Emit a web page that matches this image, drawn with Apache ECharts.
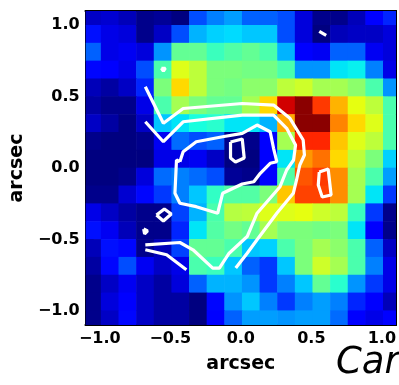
<!DOCTYPE html>
<html>
<head>
<meta charset="utf-8">
<script src="https://cdn.jsdelivr.net/npm/echarts@6/dist/echarts.min.js"></script>
<style>
  html, body { margin: 0; padding: 0; background: #ffffff; }
  #chart { width: 399px; height: 385px; }
</style>
</head>
<body>
<div id="chart"></div>
<script>
// Pixel centres of the map (arcsec offsets), pixel size 0.125"
const xCenters = [-1.0525, -0.9275, -0.8025, -0.6775, -0.5525, -0.4275, -0.3025, -0.1775, -0.0525,
                  0.0725, 0.1975, 0.3225, 0.4475, 0.5725, 0.6975, 0.8225, 0.9475, 1.0725];
const yCenters = [1.0625, 0.9375, 0.8125, 0.6875, 0.5625, 0.4375, 0.3125, 0.1875, 0.0625,
                  -0.0625, -0.1875, -0.3125, -0.4375, -0.5625, -0.6875, -0.8125, -0.9375, -1.0625];
const pixelSize = 0.125;

// Normalised surface brightness, one row per yCenters entry (top to bottom)
const fluxRows = [
  [0.06,0.07,0.05,0.01,0.02,0.00,0.20,0.25,0.28,0.22,0.22,0.20,0.08,0.01,0.01,0.05,0.12,0.16],
  [0.14,0.09,0.08,0.01,0.06,0.20,0.30,0.33,0.34,0.32,0.32,0.20,0.08,0.00,0.05,0.06,0.06,0.08],
  [0.22,0.09,0.10,0.08,0.27,0.47,0.47,0.42,0.45,0.47,0.44,0.30,0.12,0.10,0.22,0.22,0.10,0.08],
  [0.13,0.11,0.09,0.20,0.44,0.62,0.58,0.50,0.50,0.49,0.49,0.44,0.27,0.27,0.35,0.36,0.25,0.09],
  [0.05,0.03,0.06,0.16,0.50,0.68,0.58,0.50,0.49,0.52,0.52,0.58,0.60,0.55,0.55,0.52,0.44,0.27],
  [0.03,0.01,0.01,0.09,0.44,0.55,0.50,0.47,0.47,0.55,0.68,0.93,0.99,0.85,0.72,0.63,0.58,0.44],
  [0.06,0.03,0.00,0.06,0.32,0.35,0.38,0.40,0.35,0.35,0.30,0.73,0.99,0.99,0.77,0.68,0.62,0.44],
  [0.01,0.00,0.00,0.01,0.10,0.23,0.20,0.22,0.01,0.01,0.11,0.55,0.87,0.87,0.70,0.62,0.58,0.44],
  [0.00,0.00,0.00,0.00,0.09,0.09,0.10,0.06,0.00,0.00,0.11,0.35,0.75,0.79,0.68,0.58,0.50,0.33],
  [0.00,0.00,0.01,0.08,0.23,0.25,0.23,0.20,0.02,0.01,0.11,0.45,0.82,0.85,0.76,0.55,0.44,0.28],
  [0.01,0.01,0.07,0.13,0.18,0.25,0.32,0.41,0.45,0.45,0.50,0.70,0.84,0.84,0.76,0.55,0.35,0.18],
  [0.09,0.06,0.03,0.01,0.01,0.19,0.30,0.44,0.57,0.58,0.62,0.62,0.63,0.60,0.58,0.42,0.18,0.01],
  [0.14,0.10,0.05,0.01,0.01,0.16,0.35,0.45,0.49,0.47,0.55,0.50,0.50,0.49,0.50,0.35,0.11,0.01],
  [0.05,0.14,0.13,0.01,0.05,0.19,0.47,0.47,0.44,0.32,0.33,0.44,0.50,0.55,0.52,0.44,0.22,0.06],
  [0.03,0.13,0.20,0.10,0.06,0.09,0.44,0.42,0.32,0.22,0.18,0.32,0.50,0.60,0.55,0.44,0.25,0.09],
  [0.01,0.06,0.10,0.06,0.03,0.08,0.22,0.30,0.30,0.27,0.18,0.25,0.32,0.47,0.40,0.27,0.18,0.09],
  [0.01,0.08,0.11,0.06,0.03,0.03,0.00,0.13,0.27,0.32,0.25,0.18,0.25,0.28,0.25,0.16,0.11,0.05],
  [0.01,0.06,0.13,0.06,0.03,0.03,0.00,0.11,0.22,0.28,0.28,0.27,0.28,0.28,0.23,0.11,0.09,0.11]
];

// Overlaid contour paths, [x, y] in arcsec
const contourOuter = [[-0.677,0.569],[-0.549,0.313],[-0.409,0.417],[0.010,0.452],[0.232,0.441],
  [0.348,0.348],[0.442,0.196],[0.451,0.091],[0.418,0.021],[0.395,-0.084],[0.372,-0.177],
  [0.255,-0.317],[0.115,-0.503],[0.045,-0.597],[-0.036,-0.701]];
const contourOuterLow = [[-0.677,-0.573],[-0.526,-0.608],[-0.386,-0.713]];
const contourMiddle = [[-0.677,0.324],[-0.549,0.184],[-0.409,0.324],[0.010,0.371],[0.232,0.371],
  [0.325,0.278],[0.388,0.161],[0.374,0.056],[0.325,-0.014],[0.278,-0.131],[0.115,-0.317],
  [0.045,-0.480],[-0.083,-0.597],[-0.152,-0.701],[-0.199,-0.701],[-0.339,-0.573],
  [-0.432,-0.522],[-0.677,-0.538]];
const contourInner = [[-0.432,0.044],[-0.409,0.114],[-0.316,0.184],[-0.129,0.219],[0.010,0.243],
  [0.115,0.301],[0.208,0.254],[0.232,0.138],[0.255,0.044],[0.208,0.033],[0.138,-0.037],
  [0.092,-0.096],[0.010,-0.112],[-0.129,-0.177],[-0.164,-0.317],[-0.199,-0.306],
  [-0.316,-0.271],[-0.432,-0.247],[-0.467,-0.177],[-0.456,0.056],[-0.432,0.044]];
const peakCentre = [[-0.073,0.182],[0.010,0.203],[0.024,0.070],[-0.038,0.042],[-0.073,0.070],[-0.073,0.182]];
const peakEast = [[0.556,-0.028],[0.619,-0.007],[0.640,-0.189],[0.577,-0.203],[0.549,-0.119],[0.556,-0.028]];
const knotSouth = [[-0.598,-0.329],[-0.542,-0.287],[-0.493,-0.322],[-0.549,-0.371],[-0.598,-0.329]];
const knotWest = [[-0.689,-0.427],[-0.661,-0.441],[-0.682,-0.462],[-0.689,-0.427]];
const knotNorth = [[-0.563,0.699],[-0.535,0.699],[-0.549,0.678],[-0.563,0.699]];
const knotNE = [[0.556,0.958],[0.605,0.930]];

const majorTicks = [-1.0, -0.5, 0.0, 0.5, 1.0];
const minorTicks = [-0.9,-0.8,-0.7,-0.6,-0.4,-0.3,-0.2,-0.1,0.1,0.2,0.3,0.4,0.6,0.7,0.8,0.9];

// matplotlib "jet" colour map
function jet(t) {
  const seg = (pts) => {
    for (let i = 1; i < pts.length; i++) {
      if (t <= pts[i][0]) {
        const [x0, y0] = pts[i - 1], [x1, y1] = pts[i];
        return y0 + (y1 - y0) * (t - x0) / (x1 - x0);
      }
    }
    return pts[pts.length - 1][1];
  };
  const r = seg([[0,0],[0.35,0],[0.66,1],[0.89,1],[1,0.5]]);
  const g = seg([[0,0],[0.125,0],[0.375,1],[0.64,1],[0.91,0],[1,0]]);
  const b = seg([[0,0.5],[0.11,1],[0.34,1],[0.65,0],[1,0]]);
  const h = v => Math.round(Math.max(0, Math.min(1, v)) * 255).toString(16).padStart(2, '0');
  return '#' + h(r) + h(g) + h(b);
}
const jetStops = [];
for (let i = 0; i <= 100; i++) jetStops.push(jet(i / 100));

const cells = [];
fluxRows.forEach((row, j) => row.forEach((v, i) => cells.push([xCenters[i], yCenters[j], v])));

const FONT = 'DejaVu Sans';
const fmt = v => (v < 0 ? '\u2212' : '') + Math.abs(v).toFixed(1);

function axisSet(dim, position, ticks, len, labelled) {
  const a = {
    type: 'value', position: position, min: -1.1, max: 1.1, gridIndex: 0,
    axisLine: { show: labelled !== null, onZero: false, lineStyle: { color: '#000', width: 2 } },
    axisTick: { show: true, inside: true, length: len, customValues: ticks, lineStyle: { color: '#000', width: 1.6 } },
    axisLabel: { show: false },
    splitLine: { show: false }
  };
  if (labelled) {
    a.axisLabel = { show: true, customValues: majorTicks, formatter: fmt, color: '#000',
      fontFamily: FONT, fontWeight: 'bold', fontSize: 16, margin: 6 };
    a.name = 'arcsec';
    a.nameLocation = 'middle';
    a.nameTextStyle = { color: '#000', fontFamily: FONT, fontWeight: 'bold', fontSize: 19 };
    a.nameGap = dim === 'x' ? 30 : 45;
  }
  return a;
}

const chart = echarts.init(document.getElementById('chart'), null, { renderer: 'canvas' });

const contourStyle = { color: '#ffffff', width: 3.2 };
const contourSets = [contourOuter, contourOuterLow, contourMiddle, contourInner,
  peakCentre, peakEast, knotSouth, knotWest, knotNorth, knotNE];

chart.setOption({
  animation: false,
  backgroundColor: '#ffffff',
  grid: { left: 81, top: 11, width: 315, height: 314, containLabel: false },
  xAxis: [
    axisSet('x', 'bottom', majorTicks, 8, true),
    axisSet('x', 'bottom', minorTicks, 4, false),
    axisSet('x', 'top', majorTicks, 8, false),
    axisSet('x', 'top', minorTicks, 4, false)
  ],
  yAxis: [
    axisSet('y', 'left', majorTicks, 8, true),
    axisSet('y', 'left', minorTicks, 4, false),
    axisSet('y', 'right', majorTicks, 8, false),
    axisSet('y', 'right', minorTicks, 4, false)
  ],
  visualMap: {
    type: 'continuous', show: false, min: 0, max: 1, dimension: 2, seriesIndex: 0,
    inRange: { color: jetStops }
  },
  graphic: [{
    type: 'text', left: 336, top: 345, silent: true,
    style: { text: 'Carr', font: 'italic 37px "DejaVu Sans"', fill: '#000' }
  }],
  series: [{
    type: 'custom',
    xAxisIndex: 0, yAxisIndex: 0,
    data: cells,
    z: 1,
    renderItem: function (params, api) {
      const x = api.value(0), y = api.value(1), h = pixelSize / 2;
      const p0 = api.coord([x - h, y + h]);
      const p1 = api.coord([x + h, y - h]);
      const rect = echarts.graphic.clipRectByRect(
        { x: p0[0] - 0.3, y: p0[1] - 0.3, width: p1[0] - p0[0] + 0.6, height: p1[1] - p0[1] + 0.6 },
        { x: params.coordSys.x, y: params.coordSys.y, width: params.coordSys.width, height: params.coordSys.height });
      if (!rect) return null;
      return { type: 'rect', shape: rect, style: { fill: api.visual('color') } };
    }
  }].concat(contourSets.map(pts => ({
    type: 'line', xAxisIndex: 0, yAxisIndex: 0, data: pts, z: 3,
    showSymbol: false, symbol: 'none', smooth: false, clip: true,
    lineStyle: contourStyle, silent: true
  })))
});
</script>
</body>
</html>
